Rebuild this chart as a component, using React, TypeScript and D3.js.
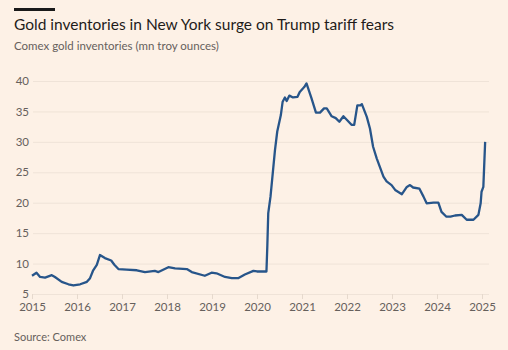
import { useEffect, useRef } from 'react'
import * as d3 from 'd3'

// decimal year, mn troy ounces
const years = [
  2015.0, 2015.1, 2015.18, 2015.29, 2015.44, 2015.51, 2015.66, 2015.81, 2015.92, 2016.07,
  2016.22, 2016.29, 2016.36, 2016.44, 2016.51, 2016.62, 2016.76, 2016.83, 2016.92, 2017.1,
  2017.33, 2017.51, 2017.73, 2017.81, 2018.03, 2018.18, 2018.44, 2018.55, 2018.84, 2018.99,
  2019.1, 2019.29, 2019.44, 2019.58, 2019.73, 2019.92, 2020.0, 2020.14, 2020.21, 2020.23,
  2020.25, 2020.3, 2020.4, 2020.45, 2020.53, 2020.57, 2020.62, 2020.66, 2020.72, 2020.8,
  2020.9, 2020.95, 2021.05, 2021.1, 2021.21, 2021.31, 2021.4, 2021.49, 2021.55, 2021.66,
  2021.75, 2021.83, 2021.92, 2022.0, 2022.1, 2022.16, 2022.23, 2022.3, 2022.33, 2022.44,
  2022.51, 2022.58, 2022.66, 2022.73, 2022.81, 2022.88, 2022.99, 2023.07, 2023.22, 2023.33,
  2023.4, 2023.47, 2023.61, 2023.7, 2023.77, 2023.92, 2024.03, 2024.1, 2024.21, 2024.3,
  2024.4, 2024.55, 2024.66, 2024.81, 2024.92, 2024.97, 2024.99, 2025.03, 2025.07,
]
const inventories = [
  8.0, 8.5, 7.8, 7.7, 8.1, 7.8, 7.0, 6.6, 6.4, 6.6,
  7.0, 7.6, 8.9, 9.8, 11.4, 10.9, 10.5, 9.8, 9.1, 9.0,
  8.9, 8.6, 8.8, 8.6, 9.4, 9.2, 9.1, 8.6, 8.0, 8.5,
  8.4, 7.8, 7.6, 7.6, 8.2, 8.8, 8.7, 8.7, 8.7, 13.0,
  18.3, 21.0, 28.7, 31.7, 34.4, 36.6, 37.3, 36.7, 37.6, 37.3,
  37.4, 38.2, 39.0, 39.6, 37.2, 34.8, 34.8, 35.5, 35.5, 34.2,
  33.9, 33.3, 34.2, 33.6, 32.8, 32.8, 36.0, 36.0, 36.2, 34.1,
  32.2, 29.2, 27.3, 25.9, 24.3, 23.5, 22.9, 22.1, 21.4, 22.6,
  22.9, 22.5, 22.3, 21.0, 19.9, 20.0, 20.0, 18.5, 17.7, 17.7,
  17.9, 18.0, 17.2, 17.2, 18.0, 19.9, 21.8, 22.6, 30.0,
]
const yTicks = [5, 10, 15, 20, 25, 30, 35, 40]
const xTicks = [2015, 2016, 2017, 2018, 2019, 2020, 2021, 2022, 2023, 2024, 2025]

const title = 'Gold inventories in New York surge on Trump tariff fears'
const subtitle = 'Comex gold inventories (mn troy ounces)'
const source = 'Source: Comex'

export default function App() {
  const svgRef = useRef<SVGSVGElement>(null)

  useEffect(() => {
    const W = 508
    const H = 350
    const margin = { top: 81, right: 20, bottom: 56, left: 32 }
    const innerW = 482 - margin.left
    const innerH = H - margin.top - margin.bottom

    const xScale = d3.scaleLinear().domain([2015, 2025]).range([0, innerW])
    const yScale = d3.scaleLinear().domain([5, 40]).range([innerH, 0])

    const svg = d3.select(svgRef.current)
    svg.selectAll('*').remove()
    svg.attr('width', W).attr('height', H)

    svg.append('rect').attr('width', W).attr('height', H).attr('fill', '#fdf1e6')

    svg.append('rect').attr('x', 14).attr('y', 8).attr('width', 41).attr('height', 3).attr('fill', '#1a1a1a')

    svg.append('text')
      .attr('x', 14).attr('y', 30)
      .attr('fill', '#1f1c1a').attr('font-size', 15.5)
      .attr('font-family', 'Lato, sans-serif')
      .text(title)

    svg.append('text')
      .attr('x', 14).attr('y', 50)
      .attr('fill', '#66605c').attr('font-size', 11.5)
      .attr('font-family', 'Lato, sans-serif')
      .text(subtitle)

    svg.append('text')
      .attr('x', 14).attr('y', 341)
      .attr('fill', '#66605c').attr('font-size', 11)
      .attr('font-family', 'Lato, sans-serif')
      .text(source)

    const g = svg.append('g').attr('transform', `translate(${margin.left},${margin.top})`)

    g.append('g')
      .call(d3.axisLeft(yScale).tickValues(yTicks).tickSize(-(innerW + 6)).tickFormat(() => ''))
      .call((ax) => ax.select('.domain').remove())
      .call((ax) => ax.selectAll('.tick line').attr('stroke', '#efe3d8').attr('transform', 'translate(1,0)'))

    g.append('g')
      .call(d3.axisLeft(yScale).tickValues(yTicks).tickSize(0).tickPadding(3))
      .call((ax) => ax.select('.domain').remove())
      .call((ax) => ax.selectAll('text')
        .attr('fill', '#66605c').attr('font-size', 11.5)
        .attr('font-family', 'Lato, sans-serif')
        .attr('dy', '0.32em'))

    g.append('g')
      .attr('transform', `translate(0,${innerH})`)
      .call(d3.axisBottom(xScale).tickValues(xTicks).tickSize(5).tickPadding(4).tickFormat(d3.format('d')))
      .call((ax) => ax.select('.domain').remove())
      .call((ax) => ax.selectAll('.tick line').attr('stroke', '#e6d9cd'))
      .call((ax) => ax.selectAll('text')
        .attr('fill', '#66605c').attr('font-size', 11.5)
        .attr('font-family', 'Lato, sans-serif'))

    const points = years.map((y, i) => [y, inventories[i]] as [number, number])
    const lineGen = d3.line<[number, number]>()
      .x((d) => xScale(d[0]))
      .y((d) => yScale(d[1]))
      .curve(d3.curveLinear)

    g.append('path')
      .datum(points)
      .attr('fill', 'none')
      .attr('stroke', '#27558a')
      .attr('stroke-width', 2.3)
      .attr('stroke-linejoin', 'round')
      .attr('d', lineGen)
  }, [])

  return (
    <div style={{ position: 'fixed', left: 0, top: 0 }}>
      <svg ref={svgRef} style={{ display: 'block' }} />
    </div>
  )
}
